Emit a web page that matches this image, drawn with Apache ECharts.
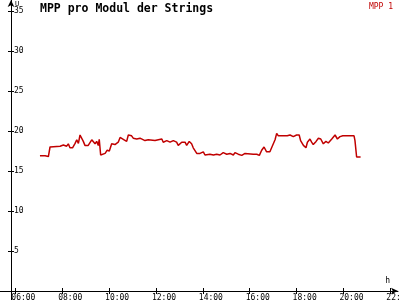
<!DOCTYPE html>
<html><head><meta charset="utf-8">
<script src="https://cdn.jsdelivr.net/npm/echarts@6/dist/echarts.min.js"></script>
<style>html,body{margin:0;padding:0;background:#fff}#c{width:400px;height:300px}</style>
</head><body><div id="c"></div>
<script>
var hours = [7.05,7.27,7.31,7.41,7.48,7.91,8.05,8.12,8.19,8.26,8.33,8.44,8.55,8.62,8.69,8.76,8.83,8.90,8.97,9.04,9.11,9.19,9.26,9.33,9.40,9.47,9.54,9.58,9.64,9.68,9.83,9.92,10.01,10.11,10.25,10.32,10.39,10.47,10.54,10.64,10.75,10.82,10.89,10.96,11.03,11.18,11.32,11.39,11.53,11.67,11.75,11.96,12.10,12.25,12.31,12.46,12.60,12.74,12.88,12.95,13.10,13.24,13.31,13.42,13.52,13.59,13.74,13.88,13.95,14.02,14.09,14.30,14.45,14.59,14.73,14.87,15.02,15.16,15.30,15.37,15.51,15.66,15.80,16.15,16.30,16.41,16.51,16.61,16.72,16.86,16.94,17.08,17.15,17.22,17.43,17.50,17.60,17.72,17.86,18.00,18.11,18.17,18.29,18.40,18.46,18.57,18.64,18.71,18.83,18.93,19.03,19.14,19.25,19.35,19.50,19.64,19.74,19.85,19.97,20.45,20.49,20.56,20.73];
var mpp1 = [16.9,16.9,16.75,16.8,18.0,18.1,18.25,18.4,18.1,18.4,17.9,17.9,18.45,18.9,18.45,19.5,19.5,18.7,18.2,18.4,18.2,18.4,18.9,18.7,18.4,18.7,18.2,18.95,17.0,17.1,17.2,17.6,17.5,18.4,18.3,18.2,18.6,19.2,19.1,18.9,18.7,19.5,19.3,19.4,19.1,19.0,19.1,18.95,18.8,18.9,18.8,18.8,18.9,19.0,18.6,18.8,18.6,18.8,18.6,18.2,18.6,18.6,18.2,18.7,18.4,17.9,17.2,17.2,17.3,17.4,17.0,17.1,17.0,17.1,17.0,17.3,17.1,17.2,17.0,17.3,17.1,16.95,17.2,17.1,17.1,16.95,17.6,18.0,17.4,17.4,17.5,18.9,19.7,19.4,19.4,19.2,19.4,19.5,19.3,19.5,19.5,18.8,18.2,17.9,18.6,19.0,18.6,18.3,18.7,19.1,19.0,18.4,18.7,18.5,19.0,19.5,19.0,19.3,19.4,19.4,18.8,16.75,16.75];
var xTicks = [6,8,10,12,14,16,18,20,22];
var yTicks = [5,10,15,20,25,30,35];

var pxPerHour = 23.44;
var xMin = 6 - 15.33 / pxPerHour;
var xMax = xMin + 398 / pxPerHour;
var labelShift = 4 / pxPerHour;
var font = 'DejaVu Sans Mono';
function pad(n){return (n<10?'0':'')+n;}

var chart = echarts.init(document.getElementById('c'), null, {renderer:'canvas'});
chart.setOption({
  animation:false,
  backgroundColor:'#fff',
  title:{text:'MPP pro Modul der Strings',left:40,top:3,padding:0,textStyle:{fontFamily:font,fontWeight:'bold',fontSize:11.5,color:'#000'}},
  legend:{data:['MPP 1'],right:7,top:2,padding:0,icon:'rect',itemWidth:0,itemHeight:9,itemGap:0,textStyle:{fontFamily:font,fontSize:8,color:'#c00000',padding:0}},
  grid:{left:0,right:2,top:0,bottom:0,containLabel:false,outerBoundsMode:'none'},
  xAxis:[{
    type:'value',min:xMin,max:xMax,position:'bottom',offset:-9,
    name:'h',nameLocation:'end',nameGap:-8,nameMoveOverlap:false,
    nameTextStyle:{fontFamily:font,fontSize:8,color:'#000',align:'right',verticalAlign:'bottom',padding:[0,0,6,0]},
    axisLine:{show:true,lineStyle:{color:'#000',width:1},symbol:['none','arrow'],symbolSize:[5,7]},
    axisTick:{show:true,length:3,customValues:xTicks,lineStyle:{color:'#000'}},
    axisLabel:{show:true,customValues:xTicks.map(function(v){return v-labelShift;}),align:'left',margin:3,
      fontFamily:font,fontSize:8,color:'#000',hideOverlap:false,
      formatter:function(v){return pad(Math.round(v))+':00';}},
    splitLine:{show:false}
  },{
    type:'value',min:xMin,max:xMax,position:'bottom',offset:-9,
    axisLine:{show:false},
    axisTick:{show:true,inside:true,length:3,customValues:xTicks,lineStyle:{color:'#000'}},
    axisLabel:{show:false},splitLine:{show:false}
  }],
  yAxis:[{
    type:'value',min:-9/8,max:291/8,position:'left',offset:-11,
    name:'U',nameLocation:'end',nameGap:-1,nameMoveOverlap:false,
    nameTextStyle:{fontFamily:font,fontSize:7,color:'#000',align:'left',verticalAlign:'top',padding:[0,0,0,4]},
    axisLine:{show:true,lineStyle:{color:'#000',width:1},symbol:['none','arrow'],symbolSize:[5,7]},
    axisTick:{show:true,length:3,customValues:yTicks,lineStyle:{color:'#000'}},
    axisLabel:{show:true,inside:true,margin:3,customValues:yTicks,fontFamily:font,fontSize:8,color:'#000'},
    splitLine:{show:false}
  },{
    type:'value',min:-9/8,max:291/8,position:'left',offset:-11,
    axisLine:{show:false},
    axisTick:{show:true,inside:true,length:3,customValues:yTicks,lineStyle:{color:'#000'}},
    axisLabel:{show:false},splitLine:{show:false}
  }],
  series:[{
    name:'MPP 1',type:'line',showSymbol:false,
    data:hours.map(function(h,i){return [h,mpp1[i]];}),
    lineStyle:{color:'#c00000',width:1.5},itemStyle:{color:'#c00000'}
  }]
});
</script></body></html>
